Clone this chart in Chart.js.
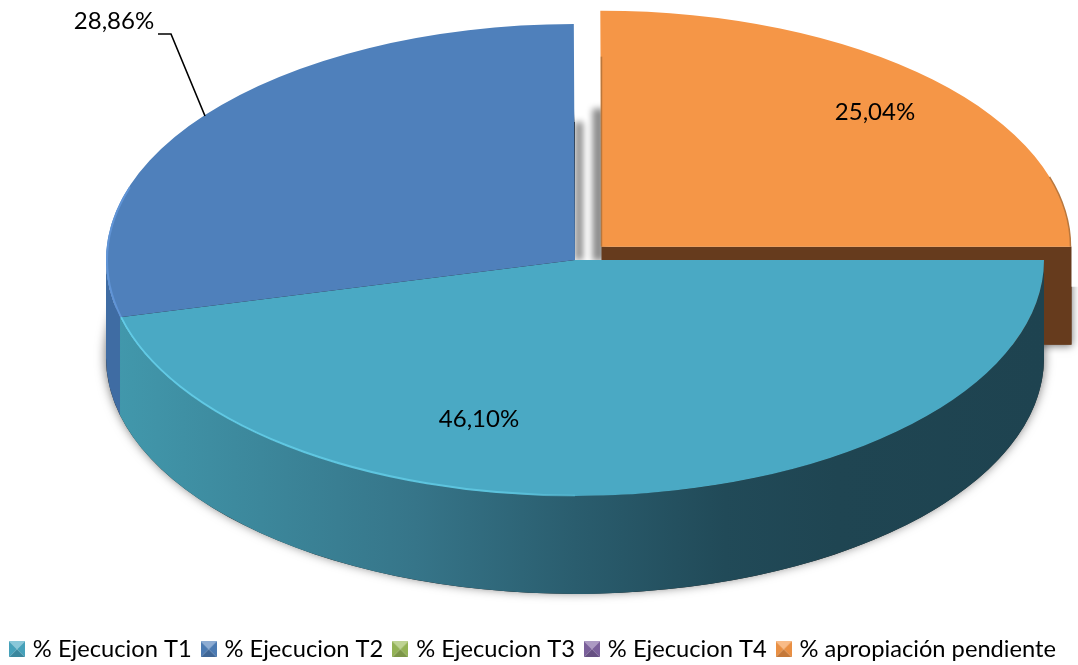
<!DOCTYPE html>
<html>
<head>
<meta charset="utf-8">
<title>Ejecucion</title>
<script src="https://cdn.jsdelivr.net/npm/chart.js@4/dist/chart.umd.js"></script>
<style>
  html, body { margin: 0; background: #fff; }
  canvas { display: block; }
</style>
</head>
<body>
<canvas id="chart" width="1078" height="665"></canvas>
<script>
const categories = ['% Ejecucion T1', '% Ejecucion T2', '% Ejecucion T3', '% Ejecucion T4', '% apropiación pendiente'];
const values = [46.10, 28.86, 0, 0, 25.04];
const colors = ['#4aa9c4', '#4f80bb', '#9bbb59', '#8064a2', '#f59647'];
const offsets = [0, 0, 0, 0, 150];

const FONT = 'Lato, Carlito, sans-serif';
const SQUASH = 0.503;   // flattens the circle into the 3D-looking ellipse
const DEPTH = 98;       // wall height of the pie

// little pyramid squares used as legend markers
function shade(hex, f) {
  const n = parseInt(hex.slice(1), 16);
  const c = [n >> 16, (n >> 8) & 255, n & 255].map(v => {
    const o = f < 1 ? v * f : v + (255 - v) * (f - 1);
    return Math.round(o);
  });
  return `rgb(${c[0]},${c[1]},${c[2]})`;
}
function legendIcon(hex) {
  const cv = document.createElement('canvas');
  cv.width = 16;
  cv.height = 16;
  const g = cv.getContext('2d');
  const tri = (pts, col) => {
    g.fillStyle = col;
    g.beginPath();
    g.moveTo(pts[0], pts[1]);
    g.lineTo(pts[2], pts[3]);
    g.lineTo(8, 8);
    g.closePath();
    g.fill();
  };
  tri([0, 0, 16, 0], shade(hex, 1.35));
  tri([0, 0, 0, 16], shade(hex, 0.95));
  tri([16, 0, 16, 16], shade(hex, 0.95));
  tri([0, 16, 16, 16], shade(hex, 0.8));
  return cv;
}
const icons = colors.map(legendIcon);

function wallPath(ctx, cx, cy, r, a0, a1, depth) {
  ctx.beginPath();
  ctx.ellipse(cx, cy, r, r * SQUASH, 0, a0, a1);
  ctx.ellipse(cx, cy + depth, r, r * SQUASH, 0, a1, a0, true);
  ctx.closePath();
}

// centre of an arc once its offset and the squash are applied
function arcCentre(arc) {
  const half = (arc.startAngle + arc.endAngle) / 2;
  const off = (arc.options.offset || 0) / 4;
  return { x: arc.x + Math.cos(half) * off, y: arc.y + Math.sin(half) * off * SQUASH };
}

const pie3d = {
  id: 'pie3d',
  // the ellipse sits high and off-centre, above and right of the legend's area
  afterLayout(chart) {
    const area = chart.chartArea;
    area.left = 72;
    area.right = 1078;
    area.top = 0;
    area.bottom = 520;
    area.width = area.right - area.left;
    area.height = area.bottom - area.top;
  },
  beforeDatasetsDraw(chart) {
    const ctx = chart.ctx;
    const arcs = chart.getDatasetMeta(0).data;
    const t1 = arcs[0], t2 = arcs[1], rest = arcs[4];
    const r = t1.outerRadius;
    const cx = t1.x, cy = t1.y;
    const oc = arcCentre(rest);

    // soft shadows in the gap between the exploded slice and the rest
    ctx.save();
    ctx.filter = 'blur(3px)';
    ctx.fillStyle = 'rgba(0,0,0,0.45)';
    ctx.fillRect(cx, cy - 138, 8, 138);
    ctx.fillRect(oc.x - 9, oc.y - 138, 12, 152);
    ctx.restore();

    // orange cut face
    ctx.save();
    ctx.beginPath();
    ctx.rect(oc.x, oc.y + 40, 500, 200);
    ctx.clip();
    ctx.shadowColor = 'rgba(0,0,0,0.55)';
    ctx.shadowBlur = 8;
    ctx.shadowOffsetX = 1;
    ctx.shadowOffsetY = 1;
    ctx.fillStyle = '#663b1d';
    ctx.fillRect(oc.x, oc.y, r + 1, DEPTH);
    ctx.restore();
    ctx.fillStyle = '#663b1d';
    ctx.fillRect(oc.x, oc.y, r + 1, DEPTH);

    // shadow under the main body
    ctx.save();
    ctx.beginPath();
    ctx.rect(0, 0, cx, 665);
    ctx.rect(cx, cy + 85, 600, 400);
    ctx.clip();
    ctx.shadowColor = 'rgba(0,0,0,0.6)';
    ctx.shadowBlur = 11;
    ctx.shadowOffsetY = -2;
    ctx.fillStyle = '#222';
    ctx.beginPath();
    ctx.ellipse(cx, cy + DEPTH, r, r * SQUASH, 0, 0, Math.PI * 2);
    ctx.fill();
    ctx.restore();

    // blue wall
    ctx.fillStyle = '#3f6ca3';
    wallPath(ctx, cx, cy, r, t2.startAngle, Math.PI, DEPTH);
    ctx.fill();

    // teal wall, light on the left going dark to the right
    const grad = ctx.createLinearGradient(cx - r, 0, cx + r, 0);
    grad.addColorStop(0, '#4299ad');
    grad.addColorStop(0.33, '#367589');
    grad.addColorStop(0.5, '#2a5d6e');
    grad.addColorStop(0.66, '#214a58');
    grad.addColorStop(0.78, '#1f4552');
    grad.addColorStop(1, '#1e4350');
    ctx.fillStyle = grad;
    wallPath(ctx, cx, cy, r, t1.startAngle, t1.endAngle, DEPTH);
    ctx.fill();
  },
  beforeDatasetDraw(chart) {
    const ctx = chart.ctx;
    const a = chart.getDatasetMeta(0).data[0];
    ctx.save();
    ctx.translate(a.x, a.y);
    ctx.scale(1, SQUASH);
    ctx.translate(-a.x, -a.y);
  },
  afterDatasetDraw(chart) {
    chart.ctx.restore();
  },
  afterDatasetsDraw(chart) {
    const ctx = chart.ctx;
    const arcs = chart.getDatasetMeta(0).data;
    const t1 = arcs[0], t2 = arcs[1], rest = arcs[4];
    const r = t1.outerRadius;
    const oc = arcCentre(rest);

    // bevel highlights along the rim
    ctx.save();
    ctx.lineWidth = 2;
    const rim = ctx.createLinearGradient(t1.x - r, 0, t1.x + 60, 0);
    rim.addColorStop(0, '#62cbe6');
    rim.addColorStop(0.75, '#5cc3dd');
    rim.addColorStop(1, 'rgba(90,190,215,0)');
    ctx.strokeStyle = rim;
    ctx.beginPath();
    ctx.ellipse(t1.x, t1.y, r - 1, (r - 1) * SQUASH, 0, Math.PI / 2, t1.endAngle);
    ctx.stroke();
    ctx.strokeStyle = '#6094d6';
    ctx.beginPath();
    ctx.ellipse(t2.x, t2.y, r - 1, (r - 1) * SQUASH, 0, t2.startAngle, Math.PI * 1.1);
    ctx.stroke();
    ctx.lineWidth = 1.5;
    ctx.strokeStyle = '#b9773d';
    ctx.beginPath();
    ctx.ellipse(oc.x, oc.y, r, r * SQUASH, 0, -0.3, 0);
    ctx.stroke();
    ctx.beginPath();
    ctx.moveTo(oc.x, oc.y - 190);
    ctx.lineTo(oc.x, oc.y);
    ctx.stroke();
    ctx.restore();

    // value labels
    const spots = [[479, 419], [114, 21], null, null, [875, 112]];
    ctx.save();
    ctx.font = '24px ' + FONT;
    ctx.fillStyle = '#000';
    ctx.textAlign = 'center';
    ctx.textBaseline = 'middle';
    values.forEach((v, i) => {
      if (!spots[i]) return;
      ctx.fillText(v.toFixed(2).replace('.', ',') + '%', spots[i][0], spots[i][1]);
    });
    // leader line of the blue label
    ctx.strokeStyle = '#000';
    ctx.lineWidth = 1.6;
    ctx.beginPath();
    ctx.moveTo(158, 34);
    ctx.lineTo(171, 34);
    ctx.lineTo(205, 116);
    ctx.stroke();
    ctx.restore();
  }
};

new Chart(document.getElementById('chart'), {
  type: 'pie',
  data: {
    labels: categories,
    datasets: [{
      data: values,
      backgroundColor: colors,
      borderWidth: 0,
      offset: offsets,
      radius: 469,
      clip: false
    }]
  },
  options: {
    responsive: false,
    animation: false,
    rotation: 90,
    layout: { padding: { bottom: -6 } },
    plugins: {
      tooltip: { enabled: false },
      legend: {
        position: 'bottom',
        align: 'start',
        labels: {
          usePointStyle: true,
          boxWidth: 8,
          padding: 13,
          font: { family: FONT, size: 23.7 },
          generateLabels: () => categories.map((text, i) => ({
            text,
            fillStyle: colors[i],
            strokeStyle: colors[i],
            lineWidth: 0,
            pointStyle: icons[i],
            fontColor: '#000',
            hidden: false,
            index: i
          }))
        }
      }
    }
  },
  plugins: [pie3d]
});
</script>
</body>
</html>
